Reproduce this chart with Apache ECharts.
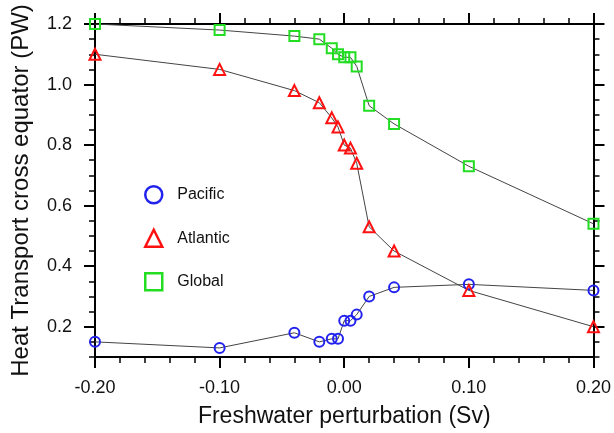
<!DOCTYPE html>
<html>
<head>
<meta charset="utf-8">
<script src="https://cdn.jsdelivr.net/npm/echarts@6/dist/echarts.min.js"></script>
<style>
  html, body { margin: 0; padding: 0; background: #fff; }
  #main { width: 614px; height: 433px; }
</style>
</head>
<body>
<div id="main"></div>
<script>
// freshwater perturbation (Sv)
var xPerturb = [-0.2, -0.1, -0.04, -0.02, -0.01, -0.005, 0, 0.005, 0.01, 0.02, 0.04, 0.1, 0.2];
// heat transport (PW)
var pacific  = [0.15, 0.13, 0.18, 0.15, 0.16, 0.16, 0.22, 0.22, 0.24, 0.30, 0.33, 0.34, 0.32];
var atlantic = [1.10, 1.05, 0.98, 0.94, 0.89, 0.86, 0.80, 0.79, 0.74, 0.53, 0.45, 0.32, 0.20];
var global   = [1.20, 1.18, 1.16, 1.15, 1.12, 1.10, 1.09, 1.09, 1.06, 0.93, 0.87, 0.73, 0.54];

var seriesNames = ['Pacific', 'Atlantic', 'Global'];
var yMajorTicks = [0.2, 0.4, 0.6, 0.8, 1.0, 1.2];

var FONT = '"Liberation Sans", Arial, sans-serif';
var colors = { Pacific: '#2222ee', Atlantic: '#ff1111', Global: '#22dd22' };
var shapes = { Pacific: 'circle', Atlantic: 'triangle', Global: 'rect' };

function pairs(ys) {
  return xPerturb.map(function (x, i) { return [x, ys[i]]; });
}

var chart = echarts.init(document.getElementById('main'));

function axisBase(extra) {
  var base = {
    type: 'value',
    axisLine: { show: true, onZero: false, lineStyle: { color: '#000', width: 2 } },
    axisTick: { show: true, length: 11, lineStyle: { color: '#000', width: 2 } },
    splitLine: { show: false },
    minorSplitLine: { show: false }
  };
  return Object.assign(base, extra);
}

function makeSeries(name, ys, size) {
  return {
    name: name,
    type: 'line',
    data: pairs(ys),
    symbol: shapes[name],
    symbolSize: size,
    lineStyle: { color: '#444', width: 1 },
    itemStyle: { color: 'rgba(255,255,255,0)', borderColor: colors[name], borderWidth: 2 },
    animation: false
  };
}

// y axes: one for short ticks every 0.05, one for the long labelled ticks
function yMinor(pos) {
  return axisBase({
    position: pos,
    min: 0.1, max: 1.2, interval: 0.05,
    axisTick: { show: true, length: 6, lineStyle: { color: '#000', width: 1.5 } },
    axisLabel: { show: false }
  });
}
function yMajor(pos, labelled) {
  var ax = axisBase({
    position: pos,
    min: 0.1, max: 1.2,
    axisTick: { show: true, length: 11, customValues: yMajorTicks, lineStyle: { color: '#000', width: 2 } },
    axisLabel: { show: false }
  });
  if (labelled) {
    ax.name = 'Heat Transport cross equator (PW)';
    ax.nameLocation = 'middle';
    ax.nameGap = 62;
    ax.nameTextStyle = { fontSize: 24, color: '#111', fontFamily: FONT };
    ax.axisLabel = {
      show: true, fontSize: 18, color: '#111', margin: 23, fontFamily: FONT,
      customValues: yMajorTicks,
      formatter: function (v) { return v.toFixed(1); }
    };
  }
  return ax;
}

chart.setOption({
  backgroundColor: '#fff',
  textStyle: { fontFamily: FONT },
  grid: { left: 95, right: 19, top: 24, bottom: 74 },
  legend: {
    orient: 'vertical',
    left: 139,
    top: 180,
    itemWidth: 17,
    itemHeight: 17,
    itemGap: 24,
    textStyle: { fontSize: 16, color: '#111', fontFamily: FONT, padding: [0, 0, 0, 10] },
    data: seriesNames.map(function (n) {
      return {
        name: n,
        icon: shapes[n],
        itemStyle: { color: 'rgba(255,255,255,0)', borderColor: colors[n], borderWidth: 2.5 }
      };
    })
  },
  xAxis: [
    axisBase({
      position: 'bottom',
      min: -0.2, max: 0.2, interval: 0.1,
      minorTick: { show: true, splitNumber: 5, length: 6, lineStyle: { color: '#000', width: 1.5 } },
      name: 'Freshwater perturbation (Sv)',
      nameLocation: 'middle',
      nameGap: 48,
      nameTextStyle: { fontSize: 23, color: '#111', fontFamily: FONT },
      axisLabel: {
        fontSize: 18, color: '#111', margin: 22, fontFamily: FONT,
        formatter: function (v) { return v.toFixed(2); }
      }
    }),
    axisBase({
      position: 'top',
      min: -0.2, max: 0.2, interval: 0.1,
      minorTick: { show: true, splitNumber: 5, length: 6, lineStyle: { color: '#000', width: 1.5 } },
      axisLabel: { show: false }
    })
  ],
  yAxis: [
    yMajor('left', true),
    yMinor('left'),
    yMajor('right', false),
    yMinor('right')
  ],
  series: [
    makeSeries('Pacific', pacific, 10),
    makeSeries('Atlantic', atlantic, 11),
    makeSeries('Global', global, 10)
  ]
});
</script>
</body>
</html>
